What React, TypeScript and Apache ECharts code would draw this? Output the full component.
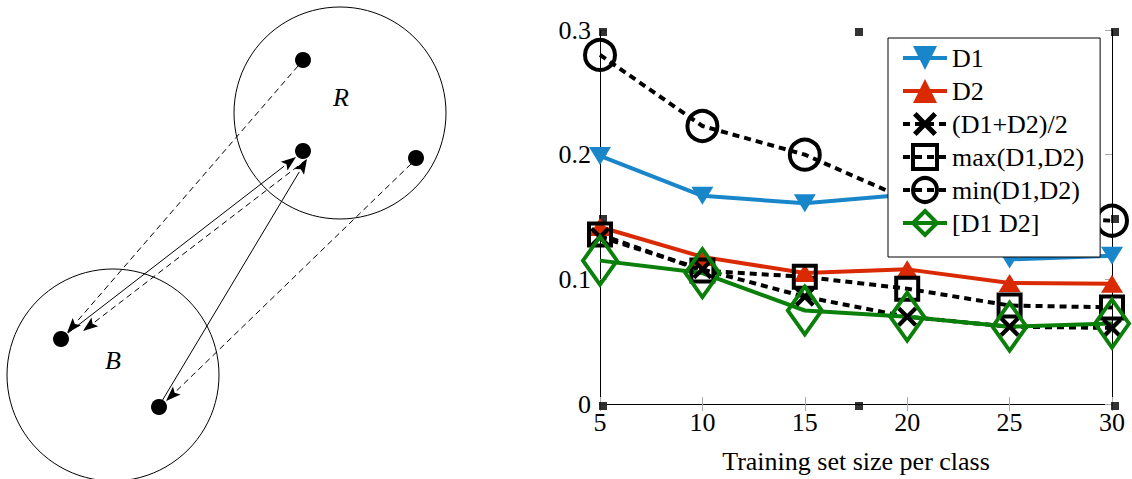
import React, { useEffect, useRef } from 'react';
import * as echarts from 'echarts';

// ---------- chart data ----------
const trainingSizes = [5, 10, 15, 20, 25, 30];
const seriesNames = ['D1', 'D2', '(D1+D2)/2', 'max(D1,D2)', 'min(D1,D2)', '[D1 D2]'];
const d1Values = [0.199, 0.167, 0.161, 0.168, 0.116, 0.119];
const d2Values = [0.142, 0.118, 0.105, 0.108, 0.097, 0.0965];
const avgValues = [0.134, 0.108, 0.086, 0.07, 0.062, 0.061];
const maxValues = [0.136, 0.107, 0.102, 0.0925, 0.079, 0.0775];
const minValues = [0.28, 0.223, 0.2, 0.164, 0.152, 0.147];
const concatValues = [0.115, 0.105, 0.075, 0.07, 0.062, 0.0645];
const anchorX = [5, 17.5, 30, 5, 30, 5, 17.5, 30];
const anchorY = [0.3, 0.3, 0.3, 0.15, 0.15, 0, 0, 0];
const xAxisName = 'Training set size per class';

// ---------- diagram (left) ----------
const circleCenters = [[340, 113], [113, 375]];
const circleLabels = ['R', 'B'];
const labelPos = [[341, 97], [113, 360]];
const dots = [[303, 60], [303, 151], [416, 158], [61, 339], [159, 407]];
// [x1, y1, x2(tip), y2(tip), dashed]
const arrows: [number, number, number, number, boolean][] = [
  [298, 66, 67, 333, true],
  [306, 160, 83, 331, true],
  [411, 164, 166, 401, true],
  [68, 333, 296, 157, false],
  [162, 401, 307, 159, false],
];

const SERIF = '"Liberation Serif", "Times New Roman", serif';
const BLUE = '#1886c9';
const RED = '#d92a04';
const GREEN = '#0a7f0a';
const CROSS = 'path://M3,0 L10,7 L17,0 L20,3 L13,10 L20,17 L17,20 L10,13 L3,20 L0,17 L7,10 L0,3 Z';

function pairs(vals: number[]) {
  return trainingSizes.map((x, i) => [x, vals[i]]);
}

function buildDiagram() {
  const els: any[] = [];
  circleCenters.forEach(([cx, cy]) => {
    els.push({ type: 'circle', shape: { cx, cy, r: 106 }, style: { fill: 'none', stroke: '#000', lineWidth: 1 } });
  });
  circleLabels.forEach((t, i) => {
    els.push({
      type: 'text', x: labelPos[i][0], y: labelPos[i][1],
      style: { text: t, font: 'italic 26px ' + SERIF, fill: '#000', align: 'center', verticalAlign: 'middle' },
    });
  });
  dots.forEach(([cx, cy]) => {
    els.push({ type: 'circle', shape: { cx, cy, r: 8 }, style: { fill: '#000' } });
  });
  arrows.forEach(([x1, y1, x2, y2, dashed]) => {
    const dx = x2 - x1, dy = y2 - y1;
    const len = Math.hypot(dx, dy);
    const ux = dx / len, uy = dy / len;
    const L = 15, W = 5.5;
    const bx = x2 - ux * L, by = y2 - uy * L;
    els.push({
      type: 'line', shape: { x1, y1, x2: bx, y2: by },
      style: { stroke: '#000', lineWidth: 1, lineDash: dashed ? [6, 4] : null },
    });
    els.push({
      type: 'polygon',
      shape: { points: [[x2, y2], [bx - uy * W, by + ux * W], [bx + ux * 3, by + uy * 3], [bx + uy * W, by - ux * W]] },
      style: { fill: '#000' },
    });
  });
  return els;
}

export default function App() {
  const ref = useRef<HTMLDivElement>(null);
  useEffect(() => {
    document.body.style.margin = '0';
    const chart = echarts.init(ref.current!, null, { renderer: 'svg' });
    const dotted = { type: [7, 5] as any, width: 4, color: '#000', cap: 'butt' as any };
    const hollowBlack = { color: 'transparent', borderColor: '#000', borderWidth: 4 };
    const axisCommon = {
      type: 'value' as const,
      axisLine: { show: true, lineStyle: { color: '#000', width: 1 } },
      axisTick: { show: true, inside: true, length: 7, lineStyle: { color: '#aaa', width: 1 } },
      splitLine: { show: false },
    };
    chart.setOption({
      animation: false,
      backgroundColor: '#fff',
      textStyle: { fontFamily: SERIF, color: '#000' },
      grid: { left: 600, top: 30, width: 512, height: 375, containLabel: false },
      xAxis: [
        {
          ...axisCommon, position: 'bottom', min: 5, max: 30, interval: 5,
          axisLabel: { color: '#000', fontFamily: SERIF, fontSize: 26, margin: 5 },
          name: xAxisName, nameLocation: 'middle', nameGap: 44,
          nameTextStyle: { color: '#000', fontFamily: SERIF, fontSize: 26 },
        },
        { ...axisCommon, position: 'top', min: 5, max: 30, interval: 5, axisLabel: { show: false } },
      ],
      yAxis: [
        {
          ...axisCommon, position: 'left', min: 0, max: 0.3, interval: 0.1,
          axisLabel: { color: '#000', fontFamily: SERIF, fontSize: 26, margin: 9 },
        },
        { ...axisCommon, position: 'right', min: 0, max: 0.3, interval: 0.1, axisLabel: { show: false } },
      ],
      legend: {
        data: seriesNames,
        orient: 'vertical',
        left: 888, top: 38,
        padding: [5, 16, 19, 13],
        itemWidth: 44, itemHeight: 30, itemGap: 3,
        lineStyle: { width: 4 },
        itemStyle: { borderWidth: 4 },
        backgroundColor: '#fff', borderColor: '#000', borderWidth: 1, borderRadius: 0,
        textStyle: { color: '#000', fontFamily: SERIF, fontSize: 26, lineHeight: 30 },
      },
      series: [
        {
          name: seriesNames[0], type: 'line', data: pairs(d1Values), clip: false,
          symbol: 'triangle', symbolRotate: 180, symbolSize: [22, 18],
          lineStyle: { color: BLUE, width: 4 }, itemStyle: { color: BLUE, borderWidth: 0 },
        },
        {
          name: seriesNames[1], type: 'line', data: pairs(d2Values), clip: false,
          symbol: 'triangle', symbolSize: [22, 18],
          lineStyle: { color: RED, width: 4 }, itemStyle: { color: RED, borderWidth: 0 },
        },
        {
          name: seriesNames[2], type: 'line', data: pairs(avgValues), clip: false,
          symbol: CROSS, symbolSize: 20,
          lineStyle: dotted, itemStyle: { color: '#000', borderWidth: 0 },
        },
        {
          name: seriesNames[3], type: 'line', data: pairs(maxValues), clip: false,
          symbol: 'rect', symbolSize: 22,
          lineStyle: dotted, itemStyle: hollowBlack,
        },
        {
          name: seriesNames[4], type: 'line', data: pairs(minValues), clip: false,
          symbol: 'circle', symbolSize: 30,
          lineStyle: dotted, itemStyle: hollowBlack,
        },
        {
          name: seriesNames[5], type: 'line', data: pairs(concatValues), clip: false,
          symbol: 'diamond', symbolSize: [34, 48],
          lineStyle: { color: GREEN, width: 4 },
          itemStyle: { color: 'transparent', borderColor: GREEN, borderWidth: 4 },
        },
        {
          name: 'anchors', type: 'scatter', data: anchorX.map((x, i) => [x, anchorY[i]]),
          symbol: 'rect', symbolSize: 8, symbolOffset: [3, 2], clip: false,
          itemStyle: { color: '#000' }, z: 1,
        },
      ],
      graphic: buildDiagram(),
    });
    return () => chart.dispose();
  }, []);
  return <div ref={ref} style={{ width: 1132, height: 479, position: 'fixed', left: 0, top: 0 }} />;
}
